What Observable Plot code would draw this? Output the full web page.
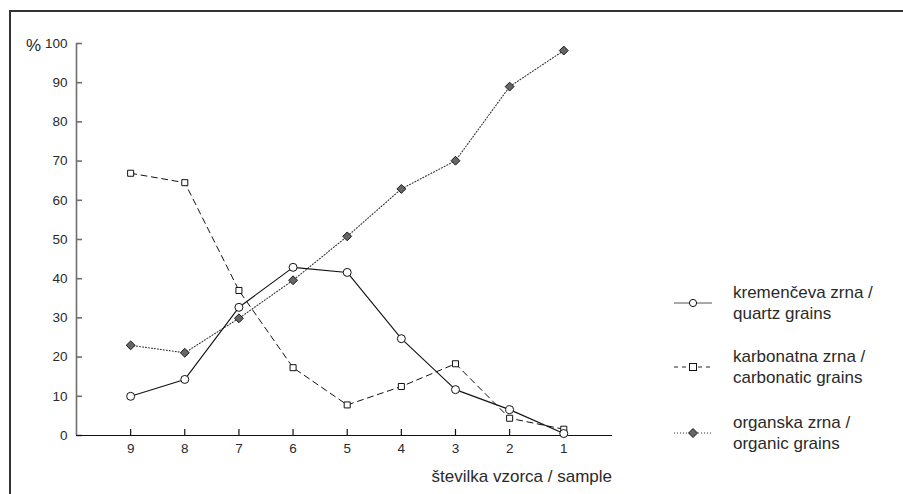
<!DOCTYPE html>
<html>
<head>
<meta charset="utf-8">
<script src="https://cdn.jsdelivr.net/npm/d3@7"></script>
<script src="https://cdn.jsdelivr.net/npm/@observablehq/plot@0.6"></script>
<style>
  html, body { margin: 0; padding: 0; background: #fff; overflow: hidden; }
  #wrap { position: relative; width: 903px; height: 494px; overflow: hidden; font-family: "Liberation Sans", Arial, sans-serif; color: #2a2a2a; }
  #frame { position: absolute; left: 9px; top: 10px; width: 2000px; height: 2000px; border-left: 2px solid #333; border-top: 2px solid #333; }
  #chart { position: absolute; left: 0; top: 0; }
  .lbl { position: absolute; font-size: 17px; line-height: 21px; color: #2a2a2a; white-space: nowrap; }
</style>
</head>
<body>
<div id="wrap">
  <div id="frame"></div>
  <div id="chart"></div>
</div>
<script>
// ---- data ----
const samples = [9, 8, 7, 6, 5, 4, 3, 2, 1];
const quartz = [10.0, 14.3, 32.7, 42.9, 41.6, 24.7, 11.7, 6.6, 0.5];
const carbonatic = [66.9, 64.5, 37.0, 17.3, 7.8, 12.5, 18.3, 4.4, 1.6];
const organic = [23.0, 21.1, 29.9, 39.6, 50.8, 62.9, 70.1, 89.0, 98.2];
const yTicks = [0, 10, 20, 30, 40, 50, 60, 70, 80, 90, 100];
const xTicks = samples;
const yUnit = "%";
const xTitle = "številka vzorca / sample";
const seriesNames = [
  ["kremenčeva zrna /", "quartz grains"],
  ["karbonatna zrna /", "carbonatic grains"],
  ["organska zrna /", "organic grains"]
];

const rows = (vals) => samples.map((s, i) => ({sample: s, value: vals[i]}));
const qData = rows(quartz), cData = rows(carbonatic), oData = rows(organic);

const chart = Plot.plot({
  width: 903,
  height: 494,
  marginLeft: 76,
  marginRight: 291,
  marginTop: 43,
  marginBottom: 59,
  style: {fontFamily: "Liberation Sans, Arial, sans-serif", fontSize: "13.5px", color: "#2a2a2a", background: "transparent"},
  x: {type: "linear", domain: [10, 0.1], range: [76, 612]},
  y: {domain: [0, 100], range: [435, 43]},
  marks: [
    Plot.ruleX([10], {stroke: "#6f6f6f", strokeWidth: 1.6}),
    Plot.axisY({ticks: yTicks, tickSize: -6, tickPadding: 15, stroke: "#6f6f6f", strokeWidth: 1.6, fill: "#2a2a2a", label: null, tickFormat: d => String(d)}),
    Plot.ruleY([0], {stroke: "#111", strokeWidth: 1.2}),
    Plot.axisX({ticks: xTicks, tickSize: -6, tickPadding: 14, stroke: "#111", strokeWidth: 1.2, fill: "#2a2a2a", label: null, tickFormat: d => String(d)}),
    Plot.line(oData, {x: "sample", y: "value", stroke: "#333", strokeWidth: 1.1, strokeDasharray: "1,2"}),
    Plot.line(cData, {x: "sample", y: "value", stroke: "#111", strokeWidth: 1, strokeDasharray: "6,4.5"}),
    Plot.line(qData, {x: "sample", y: "value", stroke: "#111", strokeWidth: 1.1}),
    Plot.dot(oData, {x: "sample", y: "value", symbol: "diamond2", r: 4, fill: "#666", stroke: "#1a1a1a", strokeWidth: 1}),
    Plot.dot(cData, {x: "sample", y: "value", symbol: "square", r: 3.4, fill: "#fff", stroke: "#111", strokeWidth: 1}),
    Plot.dot(qData, {x: "sample", y: "value", symbol: "circle", r: 4, fill: "#fff", stroke: "#111", strokeWidth: 1})
  ]
});
document.getElementById("chart").appendChild(chart);

const wrap = document.getElementById("wrap");
function addText(txt, css) {
  const d = document.createElement("div");
  d.className = "lbl";
  d.textContent = txt;
  Object.assign(d.style, css);
  wrap.appendChild(d);
  return d;
}
addText(yUnit, {left: "26px", top: "35px", fontSize: "17px"});
addText(xTitle, {right: "291px", top: "466px"});

// legend
const swatches = [
  `<line x1="0" y1="10" x2="38" y2="10" stroke="#555" stroke-width="1.2"/><circle cx="19" cy="10" r="3.6" fill="#fff" stroke="#111"/>`,
  `<line x1="0" y1="10" x2="38" y2="10" stroke="#222" stroke-width="1" stroke-dasharray="4,4"/><rect x="15.5" y="6.5" width="7" height="7" fill="#fff" stroke="#111"/>`,
  `<line x1="0" y1="10" x2="38" y2="10" stroke="#333" stroke-width="1" stroke-dasharray="1,2"/><path d="M19,5.5L23.5,10L19,14.5L14.5,10Z" fill="#666" stroke="#1a1a1a"/>`
];
const symY = [303, 367, 433];
seriesNames.forEach((lines, i) => {
  const sw = document.createElementNS("http://www.w3.org/2000/svg", "svg");
  sw.setAttribute("width", 40); sw.setAttribute("height", 20);
  sw.innerHTML = swatches[i];
  sw.style.position = "absolute";
  sw.style.left = "674px";
  sw.style.top = (symY[i] - 10) + "px";
  wrap.appendChild(sw);
  const t = addText("", {left: "733px", top: (symY[i] - 21) + "px"});
  t.innerHTML = lines.map(l => `<div>${l}</div>`).join("");
});
</script>
</body>
</html>
